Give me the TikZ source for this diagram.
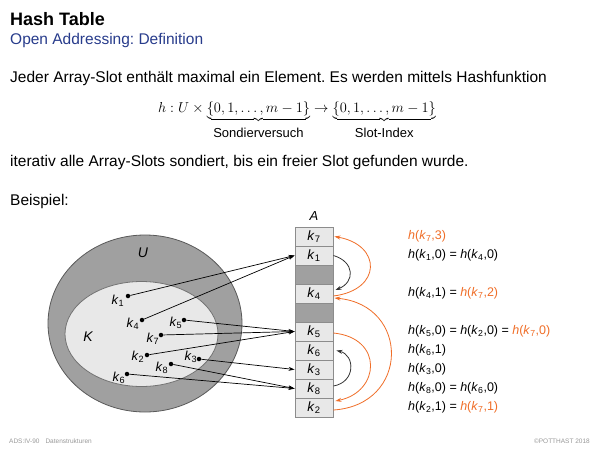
\documentclass[tikz,border=0pt]{standalone}
\usepackage[no-math]{fontspec}
\setmainfont{Liberation Sans}
\usetikzlibrary{arrows.meta}
\definecolor{orng}{RGB}{240,110,40}
\definecolor{titleblue}{RGB}{40,60,140}
\definecolor{slotfill}{RGB}{232,232,232}
\definecolor{slotempty}{RGB}{160,160,160}
\definecolor{slotline}{RGB}{140,140,140}
\newcommand\kk[1]{\textit{k}\textsubscript{#1}}
\newcommand\hh[2]{\textit{h}(\kk{#1},#2)}
\newcommand\bracelab[1]{\mbox{\rule{0pt}{13pt}\fontsize{13}{15}\selectfont #1}}
\frenchspacing
\tikzset{
  txt/.style={anchor=base west, inner sep=0, font=\fontsize{15.5}{18}\selectfont},
  slotbox/.style={draw=slotline, fill=slotfill, line width=0.9pt, minimum width=38, minimum height=19, inner sep=0, font=\fontsize{13.5}{15}\selectfont},
  emptybox/.style={slotbox, fill=slotempty},
  kdot/.style={circle, fill=black, inner sep=0, minimum size=4.5},
  klab/.style={inner sep=0, font=\fontsize{13}{15}\selectfont},
  hlab/.style={anchor=west, inner sep=0, font=\fontsize{12.5}{15}\selectfont},
  arr/.style={line width=0.7pt, -{Stealth[length=6pt,width=4pt]}},
  carr/.style={line width=0.8pt, -{Stealth[length=6pt,width=4pt]}},
  foot/.style={anchor=base west, inner sep=0, text=gray!80, font=\fontsize{6.5}{8}\selectfont},
}
\begin{document}
\begin{tikzpicture}[x=1pt,y=-1pt]
\useasboundingbox[fill=white] (0,0) rectangle (600,450);
% header
\node[anchor=base west, inner sep=0, font=\fontsize{18}{20}\selectfont\bfseries] (title) at (10,25) {Hash Table};
\node[anchor=base west, inner sep=0, text=titleblue, font=\fontsize{15.5}{18}\selectfont] (subtitle) at (10,44) {Open Addressing: Definition};
% body text
\node[txt] (l1) at (10,82) {Jeder Array-Slot enthält maximal ein Element. Es werden mittels Hashfunktion};
\node[anchor=base, inner sep=0, font=\fontsize{15.8}{18}\selectfont] (formula) at (297,112)
 {$h : U \times \underbrace{\{0,1,\ldots,m-1\}}_{\bracelab{Sondierversuch}} \rightarrow \underbrace{\{0,1,\ldots,m-1\}}_{\bracelab{Slot-Index}}$};
\node[txt] (l2) at (10,166) {iterativ alle Array-Slots sondiert, bis ein freier Slot gefunden wurde.};
\node[txt] (l3) at (10,205) {Beispiel:};
% sets
\draw[fill=slotempty, draw=black!65, line width=0.8pt] (145,323.5) ellipse [x radius=97, y radius=88.5];
\draw[fill=slotfill, draw=black!55, line width=0.8pt] (141.5,334) ellipse [x radius=76.5, y radius=52.5];
\node[klab, font=\fontsize{14}{16}\selectfont\itshape] (U) at (143,253) {U};
\node[klab, font=\fontsize{14}{16}\selectfont\itshape] (K) at (88,337) {K};
% array
\node[font=\fontsize{13}{15}\selectfont\itshape] (A) at (314,216) {A};
\node[slotbox] (s0) at (314,236.5) {\kk{7}};
\node[slotbox] (s1) at (314,255.5) {\kk{1}};
\node[emptybox] (s2) at (314,274.5) {};
\node[slotbox] (s3) at (314,293.5) {\kk{4}};
\node[emptybox] (s4) at (314,312.5) {};
\node[slotbox] (s5) at (314,331.5) {\kk{5}};
\node[slotbox] (s6) at (314,350.5) {\kk{6}};
\node[slotbox] (s7) at (314,369.5) {\kk{3}};
\node[slotbox] (s8) at (314,388.5) {\kk{8}};
\node[slotbox] (s9) at (314,407.5) {\kk{2}};
% keys
\node[kdot] (d1) at (128,296) {};
\node[kdot] (d4) at (142,320) {};
\node[kdot] (d5) at (184,320) {};
\node[kdot] (d7) at (161,335) {};
\node[kdot] (d2) at (147,355) {};
\node[kdot] (d3) at (199,359) {};
\node[kdot] (d8) at (171,364) {};
\node[kdot] (d6) at (127,374) {};
\node[klab] (t1) at (118,301) {\kk{1}};
\node[klab] (t4) at (133,324) {\kk{4}};
\node[klab] (t5) at (176,323) {\kk{5}};
\node[klab] (t7) at (153,339) {\kk{7}};
\node[klab] (t2) at (138,357) {\kk{2}};
\node[klab] (t3) at (191,357) {\kk{3}};
\node[klab] (t8) at (162,368) {\kk{8}};
\node[klab] (t6) at (119,378) {\kk{6}};
\draw[arr] (d1) -- (s1.west);
\draw[arr] (d4) -- (s1.west);
\draw[arr] (d5) -- (s5.west);
\draw[arr] (d7) -- (s5.west);
\draw[arr] (d2) -- (s5.west);
\draw[arr] (d3) -- (s7.west);
\draw[arr] (d8) -- (s8.west);
\draw[arr] (d6) -- (s8.west);
% probe sequences
\draw[carr, black!80] (s1.east) .. controls (355,262) and (355,282) .. ([xshift=2pt,yshift=3.5pt]s3.east);
\draw[carr, orng] ([yshift=-2.5pt]s3.east) .. controls (382,290) and (382,245) .. ([xshift=1pt]s0.east);
\draw[carr, orng] ([yshift=-1.5pt]s5.east) .. controls (384,338) and (380,392) .. ([xshift=2pt,yshift=6.5pt]s9.east);
\draw[carr, orng] ([yshift=-2.5pt]s9.east) .. controls (410,405) and (410,305) .. ([xshift=1pt,yshift=-4.5pt]s3.east);
\draw[carr, black!80] ([yshift=2.5pt]s8.east) .. controls (356,382) and (355,355) .. ([xshift=3pt]s6.east);
% right labels
\node[hlab, text=orng] (r0) at (408,236.5) {\hh{7}{3}};
\node[hlab] (r1) at (408,255.5) {\hh{1}{0} = \hh{4}{0}};
\node[hlab] (r3) at (408,293.5) {\hh{4}{1} = \textcolor{orng}{\hh{7}{2}}};
\node[hlab] (r5) at (408,331.5) {\hh{5}{0} = \hh{2}{0} = \textcolor{orng}{\hh{7}{0}}};
\node[hlab] (r6) at (408,350.5) {\hh{6}{1}};
\node[hlab] (r7) at (408,369.5) {\hh{3}{0}};
\node[hlab] (r8) at (408,388.5) {\hh{8}{0} = \hh{6}{0}};
\node[hlab] (r9) at (408,407.5) {\hh{2}{1} = \textcolor{orng}{\hh{7}{1}}};
% footer
\node[foot] (f1) at (9,443) {ADS:IV-90\hspace{6pt}Datenstrukturen};
\node[foot, anchor=base east] (f2) at (590,443) {©POTTHAST 2018};
\end{tikzpicture}
\end{document}
